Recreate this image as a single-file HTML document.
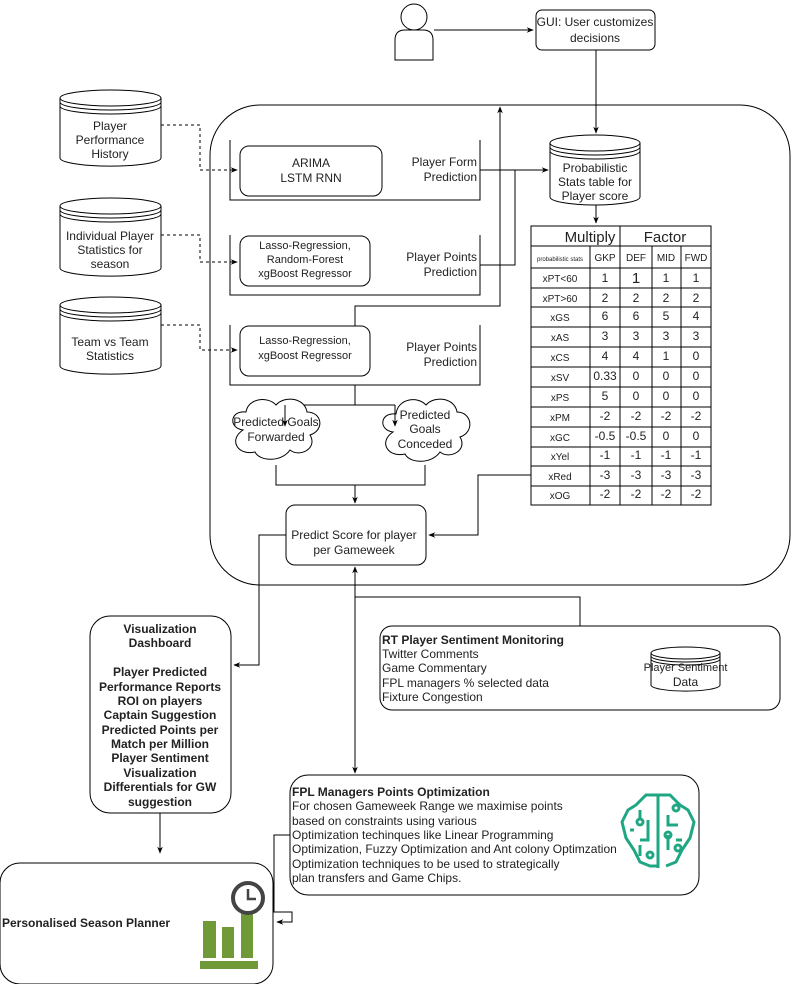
<!DOCTYPE html>
<html><head><meta charset="utf-8"><style>
html,body{margin:0;padding:0;background:#fff}
svg{display:block}
text{font-family:"Liberation Sans",sans-serif;fill:#222}
.s{font-size:12px}
.m{font-size:11px}
.t{font-size:10px}
.b{font-weight:bold}
</style></head><body>
<svg width="792" height="984" viewBox="0 0 792 984" xmlns="http://www.w3.org/2000/svg">
<defs>
<marker id="a" viewBox="0 0 10 10" refX="9" refY="5" markerWidth="7" markerHeight="7" orient="auto-start-reverse"><path d="M0,1 L10,5 L0,9 L3,5z" fill="#000"/></marker>
</defs>
<g fill="none" stroke="#000" stroke-width="1">
<circle cx="414" cy="17" r="13" fill="#fff"/>
<path d="M395,60 L395,40 Q395,30 405,30 L423,30 Q433,30 433,40 L433,60 Z" fill="#fff"/>
<path d="M434,30 L533,30" marker-end="url(#a)"/>
<rect x="536" y="10" width="119" height="40" rx="6" fill="#fff"/>
<path d="M596,50 L596,133" marker-end="url(#a)"/>
<rect x="210" y="105" width="580" height="480" rx="50"/>
<path d="M596,105 L596,133"/>
<path d="M550,143 L550,197 A45,8 0 0 0 640,197 L640,143" fill="#fff"/>
<ellipse cx="595" cy="143" rx="45" ry="8" fill="#fff"/>
<path d="M550,147 A45,8 0 0 0 640,147 M550,151 A45,8 0 0 0 640,151"/>
<path d="M596,205 L596,223" marker-end="url(#a)"/>
<rect x="531" y="226" width="180" height="279" fill="#fff"/>
<path d="M531,246 H711 M531,268 H711 M620,226 V505 M590,246 V505 M652,246 V505 M681,246 V505"/>
<path d="M531,288 H711 M531,307 H711 M531,327 H711 M531,347 H711 M531,367 H711 M531,387 H711 M531,407 H711 M531,427 H711 M531,447 H711 M531,466 H711 M531,486 H711"/>
<g fill="#fff">
<path d="M60,98 L60,158 A50,8 0 0 0 161,158 L161,98"/><ellipse cx="110.5" cy="98" rx="50.5" ry="8"/><path d="M60,102 A50.5,8 0 0 0 161,102 M60,106 A50.5,8 0 0 0 161,106" fill="none"/>
<path d="M60,206 L60,268 A50,8 0 0 0 161,268 L161,206"/><ellipse cx="110.5" cy="206" rx="50.5" ry="8"/><path d="M60,210 A50.5,8 0 0 0 161,210 M60,214 A50.5,8 0 0 0 161,214" fill="none"/>
<path d="M60,305 L60,366 A50,8 0 0 0 161,366 L161,305"/><ellipse cx="110.5" cy="305" rx="50.5" ry="8"/><path d="M60,309 A50.5,8 0 0 0 161,309 M60,313 A50.5,8 0 0 0 161,313" fill="none"/>
</g>
<g stroke-dasharray="3,3">
<path d="M161,125 H200 V170 H237" marker-end="url(#a)"/>
<path d="M161,235 H200 V262 H237" marker-end="url(#a)"/>
<path d="M161,325 H200 V350 H237" marker-end="url(#a)"/>
</g>
<path d="M230,140 V200 H480 V140"/>
<path d="M230,235 V295 H480 V235"/>
<path d="M230,325 V385 H480 V325"/>
<rect x="240" y="146" width="142" height="50" rx="9"/>
<rect x="240" y="236" width="130" height="50" rx="9"/>
<rect x="240" y="326" width="130" height="50" rx="9"/>
<path d="M480,170 H548" marker-end="url(#a)"/>
<path d="M480,265 H515 V170"/>
<path d="M355,326 V306 H500 V107" marker-end="url(#a)"/>
<path d="M355,385 V405 M285,405 H395"/>
<path d="M243,430 C228,428 230,410 246,412 C248,398 268,396 276,405 C285,395 305,398 307,412 C322,412 325,430 310,435 C318,448 300,458 290,450 C282,462 260,462 255,452 C238,456 228,440 243,430 Z" fill="#fff"/>
<path d="M393,432 C378,430 380,412 396,414 C398,398 418,396 426,405 C435,395 455,398 457,412 C472,412 475,432 460,437 C468,450 450,460 440,452 C432,464 410,464 405,454 C388,458 378,442 393,432 Z" fill="#fff"/>
<path d="M285,405 V426" marker-end="url(#a)"/>
<path d="M395,405 V426" marker-end="url(#a)"/>
<path d="M276,465 V485 H425 V465"/>
<path d="M355,485 V503" marker-end="url(#a)"/>
<rect x="286" y="505" width="140" height="60" rx="9" fill="#fff"/>
<path d="M531,475 H478 V535 H429" marker-end="url(#a)"/>
<path d="M286,535 H259 V665 H234" marker-end="url(#a)"/>
<path d="M355,567 V773" marker-start="url(#a)" marker-end="url(#a)"/>
<path d="M355,597 H580 V626"/>
<rect x="90" y="616" width="141" height="197" rx="20" fill="#fff"/>
<path d="M160,813 V853" marker-end="url(#a)"/>
<rect x="380" y="626" width="400" height="84" rx="12" fill="#fff"/>
<path d="M651,653 L651,685 A34,6 0 0 0 720,685 L720,653" fill="#fff"/>
<ellipse cx="685.5" cy="653" rx="34.5" ry="6" fill="#fff"/>
<path d="M651,656 A34.5,6 0 0 0 720,656 M651,659 A34.5,6 0 0 0 720,659"/>
<rect x="290" y="775" width="409" height="120" rx="18" fill="#fff"/>
<path d="M290,835 H274 V912 H292 V922 H277" marker-end="url(#a)"/>
<rect x="0" y="863" width="273" height="121" rx="20" fill="#fff"/>
</g>
<g fill="#6f9a37">
<rect x="203" y="921" width="13" height="37"/>
<rect x="222" y="927" width="12" height="31"/>
<rect x="241" y="913" width="12" height="45"/>
<rect x="200" y="961" width="58" height="8"/>
</g>
<circle cx="248" cy="898" r="15" fill="#fff" stroke="#444" stroke-width="4"/>
<path d="M248,889 V899 H256" fill="none" stroke="#444" stroke-width="2.5"/>
<g fill="none" stroke="#1fa784" stroke-width="3">
<path d="M658,795 V868 M658,795 L646,795 L636,805 L628,810 L622,822 L626,838 L634,850 L640,862 L650,866 L658,866 M658,795 L670,795 L680,805 L688,810 L694,822 L690,838 L682,850 L676,862 L666,866"/>
<path d="M640,810 V820 M648,820 V840 H640 M634,830 H630 M668,815 V825 H678 M668,835 V850 M676,840 H682 M640,845 V856"/>
<circle cx="640" cy="822" r="3"/><circle cx="676" cy="808" r="3"/><circle cx="668" cy="835" r="3"/><circle cx="650" cy="855" r="3"/><circle cx="678" cy="848" r="3"/>
</g>
<g text-anchor="middle" class="s">
<text x="595" y="26">GUI: User customizes</text><text x="595" y="42">decisions</text>
<text x="595" y="172">Probabilistic</text><text x="595" y="186">Stats table for</text><text x="595" y="200">Player score</text>
<text x="110" y="130">Player</text><text x="110" y="144">Performance</text><text x="110" y="158">History</text>
<text x="110" y="240">Individual Player</text><text x="110" y="254">Statistics for</text><text x="110" y="268">season</text>
<text x="110" y="346">Team vs Team</text><text x="110" y="360">Statistics</text>
<text x="311" y="167">ARIMA</text><text x="311" y="182">LSTM RNN</text>
<text x="276" y="426">Predicted Goals</text><text x="276" y="441">Forwarded</text>
<text x="425" y="419">Predicted</text><text x="425" y="433">Goals</text><text x="425" y="448">Conceded</text>
<text x="354" y="539">Predict Score for player</text><text x="354" y="554">per Gameweek</text>
<text x="685.5" y="671" style="font-size:11px">Player Sentiment</text><text x="685.5" y="686">Data</text>
</g>
<g text-anchor="middle" class="m">
<text x="305" y="249">Lasso-Regression,</text><text x="305" y="263">Random-Forest</text><text x="305" y="277">xgBoost Regressor</text>
<text x="305" y="344">Lasso-Regression,</text><text x="305" y="359">xgBoost Regressor</text>
</g>
<g text-anchor="end" class="s">
<text x="477" y="166">Player Form</text><text x="477" y="181">Prediction</text>
<text x="477" y="261">Player Points</text><text x="477" y="276">Prediction</text>
<text x="477" y="351">Player Points</text><text x="477" y="366">Prediction</text>
</g>
<g text-anchor="middle" style="font-size:15px"><text x="590" y="242">Multiply</text><text x="665" y="242">Factor</text></g>
<g text-anchor="middle" class="t">
<text x="560" y="261" style="font-size:6px">probabilistic stats</text>
<text x="605" y="261">GKP</text><text x="636" y="261">DEF</text><text x="666" y="261">MID</text><text x="696" y="261">FWD</text>
</g>
<g text-anchor="middle" class="s">
<text x="560" y="282" class="t">xPT&lt;60</text><text x="605" y="282">1</text><text x="636" y="283" style="font-size:15px">1</text><text x="666" y="282">1</text><text x="696" y="282">1</text>
<text x="560" y="302" class="t">xPT&gt;60</text><text x="605" y="302">2</text><text x="636" y="302">2</text><text x="666" y="302">2</text><text x="696" y="302">2</text>
<text x="560" y="321" class="t">xGS</text><text x="605" y="320">6</text><text x="636" y="320">6</text><text x="666" y="320">5</text><text x="696" y="320">4</text>
<text x="560" y="341" class="t">xAS</text><text x="605" y="340">3</text><text x="636" y="340">3</text><text x="666" y="340">3</text><text x="696" y="340">3</text>
<text x="560" y="361" class="t">xCS</text><text x="605" y="360">4</text><text x="636" y="360">4</text><text x="666" y="360">1</text><text x="696" y="360">0</text>
<text x="560" y="381" class="t">xSV</text><text x="605" y="380">0.33</text><text x="636" y="380">0</text><text x="666" y="380">0</text><text x="696" y="380">0</text>
<text x="560" y="401" class="t">xPS</text><text x="605" y="400">5</text><text x="636" y="400">0</text><text x="666" y="400">0</text><text x="696" y="400">0</text>
<text x="560" y="421" class="t">xPM</text><text x="605" y="420">-2</text><text x="636" y="420">-2</text><text x="666" y="420">-2</text><text x="696" y="420">-2</text>
<text x="560" y="441" class="t">xGC</text><text x="605" y="440">-0.5</text><text x="636" y="440">-0.5</text><text x="666" y="440">0</text><text x="696" y="440">0</text>
<text x="560" y="460" class="t">xYel</text><text x="605" y="459">-1</text><text x="636" y="459">-1</text><text x="666" y="459">-1</text><text x="696" y="459">-1</text>
<text x="560" y="480" class="t">xRed</text><text x="605" y="479">-3</text><text x="636" y="479">-3</text><text x="666" y="479">-3</text><text x="696" y="479">-3</text>
<text x="560" y="499" class="t">xOG</text><text x="605" y="498">-2</text><text x="636" y="498">-2</text><text x="666" y="498">-2</text><text x="696" y="498">-2</text>
</g>
<g text-anchor="middle" class="s b">
<text x="160" y="633">Visualization</text><text x="160" y="647">Dashboard</text>
<text x="160" y="676">Player Predicted</text><text x="160" y="691">Performance Reports</text><text x="160" y="705">ROI on players</text><text x="160" y="719">Captain Suggestion</text><text x="160" y="734">Predicted Points per</text><text x="160" y="748">Match per Million</text><text x="160" y="762">Player Sentiment</text><text x="160" y="777">Visualization</text><text x="160" y="791">Differentials for GW</text><text x="160" y="806">suggestion</text>
</g>
<g class="s">
<text x="382" y="644" class="b">RT Player Sentiment Monitoring</text>
<text x="382" y="658">Twitter Comments</text><text x="382" y="672">Game Commentary</text><text x="382" y="687">FPL managers % selected data</text><text x="382" y="701">Fixture Congestion</text>
<text x="292" y="796" class="b">FPL Managers Points Optimization</text>
<text x="292" y="810">For chosen Gameweek Range we maximise points</text>
<text x="292" y="825">based on constraints using various</text>
<text x="292" y="839">Optimization techinques like Linear Programming</text>
<text x="292" y="853">Optimization, Fuzzy Optimization and Ant colony Optimzation</text>
<text x="292" y="868">Optimization techniques to be used to strategically</text>
<text x="292" y="882">plan transfers and Game Chips.</text>
<text x="2" y="927" class="b">Personalised Season Planner</text>
</g>
</svg>
</body></html>
